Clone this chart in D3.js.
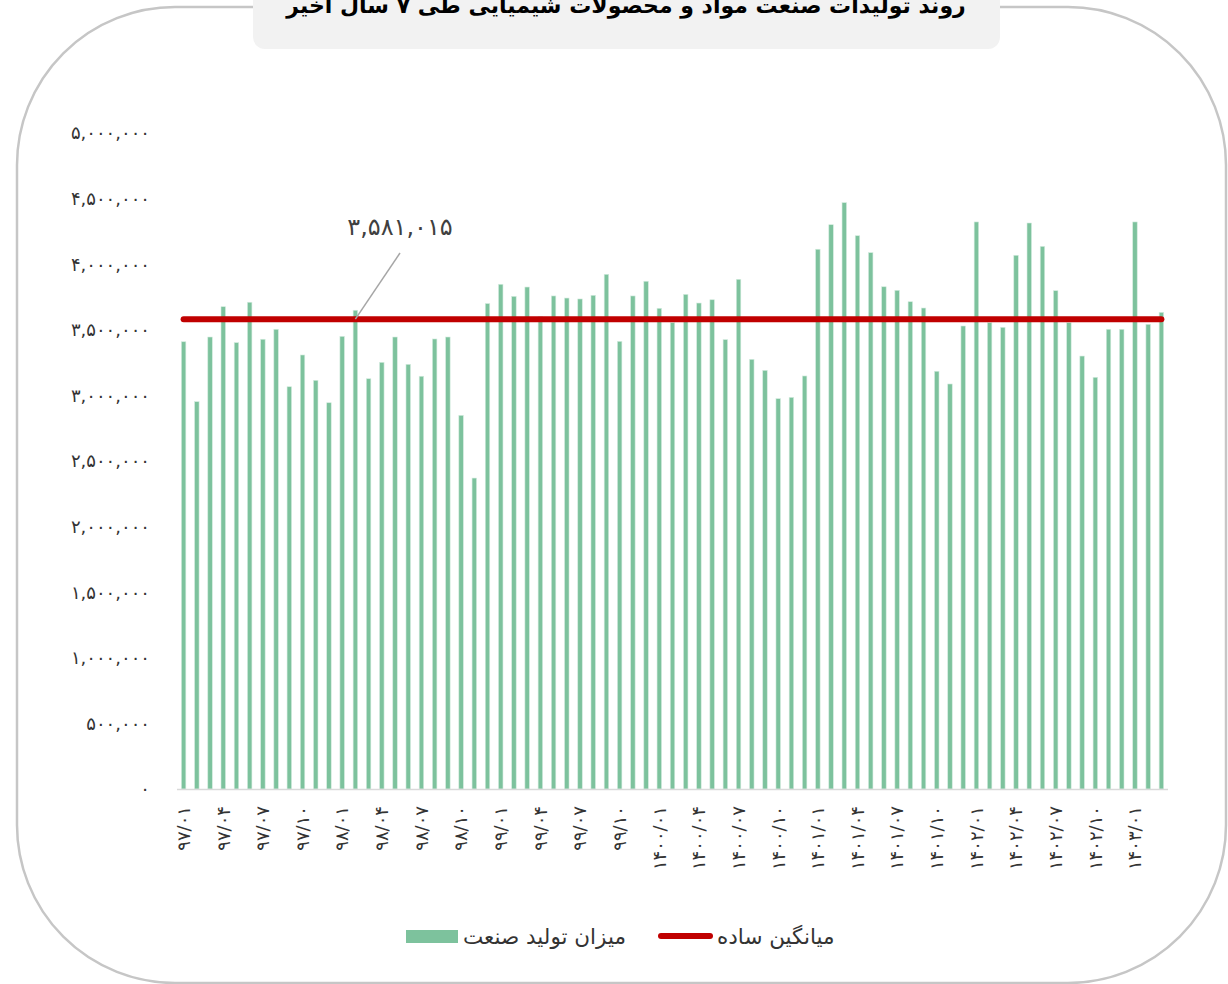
<!DOCTYPE html>
<html>
<head>
<meta charset="utf-8">
<script src="https://cdn.jsdelivr.net/npm/d3@7"></script>
<style>
  body { margin: 0; background: #fff; }
  svg text { font-family: "DejaVu Sans", sans-serif; }
</style>
</head>
<body>
<svg id="chart" width="1228" height="984"></svg>
<script>
// months (solar hijri), one bar per month
var months = [
  "97/01","97/02","97/03","97/04","97/05","97/06","97/07","97/08","97/09","97/10","97/11","97/12",
  "98/01","98/02","98/03","98/04","98/05","98/06","98/07","98/08","98/09","98/10","98/11","98/12",
  "99/01","99/02","99/03","99/04","99/05","99/06","99/07","99/08","99/09","99/10","99/11","99/12",
  "1400/01","1400/02","1400/03","1400/04","1400/05","1400/06","1400/07","1400/08","1400/09","1400/10","1400/11","1400/12",
  "1401/01","1401/02","1401/03","1401/04","1401/05","1401/06","1401/07","1401/08","1401/09","1401/10","1401/11","1401/12",
  "1402/01","1402/02","1402/03","1402/04","1402/05","1402/06","1402/07","1402/08","1402/09","1402/10","1402/11","1402/12",
  "1403/01","1403/02","1403/03"
];

// production
var production = [
  3409000, 2952000, 3445000, 3676000, 3402000, 3710000, 3428000, 3504000, 3066000, 3308000, 3115000, 2944000,
  3450000, 3649000, 3127000, 3252000, 3445000, 3237000, 3146000, 3430000, 3445000, 2848000, 2370000, 3700000,
  3847000, 3755000, 3826000, 3600000, 3758000, 3742000, 3735000, 3763000, 3923000, 3412000, 3758000, 3870000,
  3664000, 3554000, 3770000, 3704000, 3729000, 3425000, 3885000, 3275000, 3191000, 2975000, 2985000, 3148000,
  4114000, 4301000, 4469000, 4217000, 4088000, 3828000, 3801000, 3714000, 3666000, 3184000, 3087000, 3529000,
  4322000, 3554000, 3519000, 4068000, 4314000, 4136000, 3798000, 3554000, 3300000, 3138000, 3504000, 3504000,
  4322000, 3542000, 3633000
];

var average = 3581015;
var yTicks = [0, 500000, 1000000, 1500000, 2000000, 2500000, 3000000, 3500000, 4000000, 4500000, 5000000];

var title = "روند تولیدات صنعت مواد و محصولات شیمیایی طی ۷ سال اخیر";
var legendBars = "میزان تولید صنعت";
var legendAvg = "میانگین ساده";

// latin digits -> persian digits
function fa(s) {
  return String(s).replace(/[0-9]/g, function(c){ return "۰۱۲۳۴۵۶۷۸۹"[+c]; });
}

var svg = d3.select("#chart");

// rounded frame
svg.append("rect")
  .attr("x", 17).attr("y", 7)
  .attr("width", 1209).attr("height", 976)
  .attr("rx", 158).attr("ry", 158)
  .attr("fill", "none")
  .attr("stroke", "#c6c6c6")
  .attr("stroke-width", 2.5);

// title box
svg.append("rect")
  .attr("x", 253).attr("y", -20)
  .attr("width", 747).attr("height", 69)
  .attr("rx", 12)
  .attr("fill", "#f2f2f2");

svg.append("text")
  .attr("x", 626).attr("y", 13)
  .attr("text-anchor", "middle")
  .style("font-size", "22px")
  .style("font-weight", "bold")
  .attr("fill", "#000")
  .text(title);

var x = d3.scaleBand()
  .domain(months)
  .range([177, 1168])
  .paddingInner(0.66)
  .paddingOuter(0.33);

var y = d3.scaleLinear()
  .domain([0, 5000000])
  .range([789, 133]);

// y axis labels
svg.append("g")
  .selectAll("text")
  .data(yTicks)
  .enter().append("text")
  .attr("x", 150)
  .attr("y", function(d){ return y(d); })
  .attr("dy", "0.35em")
  .attr("text-anchor", "end")
  .style("font-size", "18px")
  .attr("fill", "#333")
  .text(function(d){ return fa(d3.format(",")(d)); });

// bars
svg.append("g")
  .selectAll("rect")
  .data(production)
  .enter().append("rect")
  .attr("x", function(d, i){ return x(months[i]); })
  .attr("y", function(d){ return y(d); })
  .attr("width", x.bandwidth())
  .attr("height", function(d){ return y(0) - y(d); })
  .attr("fill", "#7dc29d")
  .attr("stroke", "#d4ecdf")
  .attr("stroke-width", 0.6);

// baseline
svg.append("line")
  .attr("x1", 177).attr("x2", 1168)
  .attr("y1", 789.5).attr("y2", 789.5)
  .attr("stroke", "#d9d9d9")
  .attr("stroke-width", 1.5);

// x labels, every third month
svg.append("g")
  .selectAll("text")
  .data(months.filter(function(d, i){ return i % 3 === 0; }))
  .enter().append("text")
  .attr("transform", function(d){
    return "translate(" + (x(d) + x.bandwidth() / 2) + ",806) rotate(-90)";
  })
  .attr("dy", "0.35em")
  .attr("text-anchor", "end")
  .style("font-size", "18px")
  .attr("fill", "#333")
  .text(function(d){ return fa(d); });

// average line
var avgLine = d3.line()
  .x(function(d){ return x(d) + x.bandwidth() / 2; })
  .y(function(){ return y(average); });

svg.append("path")
  .datum(months)
  .attr("d", avgLine)
  .attr("fill", "none")
  .attr("stroke", "#c00000")
  .attr("stroke-width", 6)
  .attr("stroke-linecap", "round");

// average annotation
var anchorMonth = months[13];
svg.append("line")
  .attr("x1", 400).attr("y1", 253)
  .attr("x2", x(anchorMonth) + x.bandwidth() / 2)
  .attr("y2", y(average))
  .attr("stroke", "#a6a6a6")
  .attr("stroke-width", 1.5);

svg.append("text")
  .attr("x", 400).attr("y", 235)
  .attr("text-anchor", "middle")
  .style("font-size", "24px")
  .attr("fill", "#404040")
  .text(fa(d3.format(",")(average)));

// legend
var lg = svg.append("g");
lg.append("rect")
  .attr("x", 406).attr("y", 930)
  .attr("width", 52).attr("height", 13)
  .attr("fill", "#7dc29d");
lg.append("text")
  .attr("x", 463).attr("y", 936)
  .attr("dy", "0.35em")
  .style("font-size", "21.5px")
  .attr("fill", "#333")
  .text(legendBars);
lg.append("line")
  .attr("x1", 661).attr("x2", 710)
  .attr("y1", 936).attr("y2", 936)
  .attr("stroke", "#c00000")
  .attr("stroke-width", 6)
  .attr("stroke-linecap", "round");
lg.append("text")
  .attr("x", 717).attr("y", 936)
  .attr("dy", "0.35em")
  .style("font-size", "21.5px")
  .attr("fill", "#333")
  .text(legendAvg);
</script>
</body>
</html>
